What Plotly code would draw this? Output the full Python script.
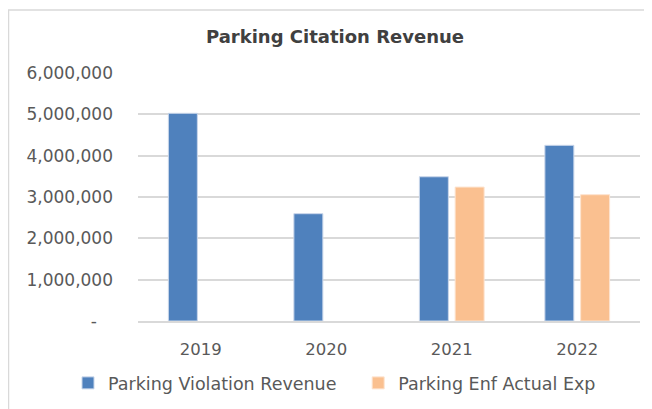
import plotly.graph_objects as go

years = ["2019", "2020", "2021", "2022"]
violation_revenue = [5025000, 2596000, 3490000, 4250000]
enf_actual_exp = [None, None, 3240000, 3056000]
y_tickvals = [0, 1000000, 2000000, 3000000, 4000000, 5000000, 6000000]
y_ticktext = ["-   ", "1,000,000", "2,000,000", "3,000,000", "4,000,000", "5,000,000", "6,000,000"]
series_names = ["Parking Violation Revenue", "Parking Enf Actual Exp"]

FONT = "DejaVu Sans"
GRAY = "#595959"
PAD = "\u00a0" * 3

fig = go.Figure()
fig.add_trace(go.Bar(x=years, y=violation_revenue, name=series_names[0] + PAD,
                     marker=dict(color="#4F81BD", line=dict(color="#C9D6EA", width=1))))
fig.add_trace(go.Bar(x=years, y=enf_actual_exp, name=series_names[1],
                     marker=dict(color="#FAC090", line=dict(color="#FDE3CF", width=1))))

# page body has an 8px margin, so the figure is offset by (8, 8)
W, H = 644, 401
L, R, T, B = 130, 12, 65, 88
pw, ph = W - L - R, H - T - B

fig.update_layout(
    width=W, height=H,
    margin=dict(l=L, r=R, t=T, b=B, autoexpand=False),
    paper_bgcolor="white", plot_bgcolor="white",
    barmode="group", bargap=0.43, bargroupgap=0.19,
    font=dict(family=FONT, color=GRAY, size=16),
    title=dict(text="<b>Parking Citation Revenue</b>", x=327/W, xanchor="center",
               y=1-29/H, yanchor="middle", font=dict(family=FONT, size=18, color="#404040")),
    showlegend=True,
    legend=dict(orientation="h", x=(60-L)/pw, xanchor="left", y=(313-375)/ph, yanchor="middle",
                font=dict(family=FONT, size=17.5, color=GRAY), itemwidth=30, traceorder="normal",
                bgcolor="rgba(0,0,0,0)"),
    xaxis=dict(showgrid=False, showline=True, linecolor="#D9D9D9", linewidth=1.5,
               ticks="", tickfont=dict(size=16.5, color=GRAY), ticklabelstandoff=12),
    yaxis=dict(range=[0, 6000000], tickvals=y_tickvals, ticktext=y_ticktext,
               showgrid=True, gridcolor="#D9D9D9", gridwidth=1.5, zeroline=False,
               showline=False, ticks="", tickfont=dict(size=17, color=GRAY),
               ticklabelstandoff=24),
    shapes=[dict(type="rect", xref="paper", yref="paper",
                 x0=(0.5-L)/pw, x1=(700-L)/pw, y0=(313-460)/ph, y1=(313-2)/ph,
                 line=dict(color="#D9D9D9", width=1.5), fillcolor="rgba(0,0,0,0)", layer="below")],
)

fig.write_html("out.html")
